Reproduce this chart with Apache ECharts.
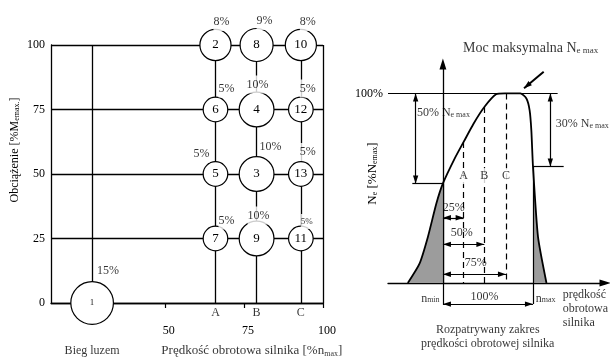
<!DOCTYPE html>
<html>
<head>
<meta charset="utf-8">
<title>Fazy testu i charakterystyka mocy</title>
<script src="https://cdn.jsdelivr.net/npm/echarts@6.0.0/dist/echarts.min.js"></script>
<style>
  html, body { margin: 0; padding: 0; background: #fff; }
  #chart { width: 610px; height: 358px; }
</style>
</head>
<body>
<div id="chart"></div>
<script>
// lewy wykres: fazy testu (predkosc, obciazenie, waga)
var modeNo = [1, 2, 8, 10, 6, 4, 12, 5, 3, 13, 7, 9, 11];
var modeSpeed = ['idle', 'A', 'B', 'C', 'A', 'B', 'C', 'A', 'B', 'C', 'A', 'B', 'C'];
var modeLoad = [0, 100, 100, 100, 75, 75, 75, 50, 50, 50, 25, 25, 25];
var modeWeight = [15, 8, 9, 8, 5, 10, 5, 5, 10, 5, 5, 10, 5];
var speedNames = ['idle', 'A', 'B', 'C'];
var speedValues = [27, 66, 79, 93];
var speedTicks = [50, 75, 100];
var loadTicks = [0, 25, 50, 75, 100];

// prawy wykres: charakterystyka mocy
var curveSpeed = [-39, -26, -16.7, -7.3, 0, 13, 23, 34, 46, 59, 69, 86, 92.7, 96.3, 98.2, 100, 105.6, 115];
var curvePower = [0, 10.2, 24.3, 41.9, 52.5, 65.6, 74.4, 84, 92.8, 99.5, 100, 100, 97.3, 91.1, 80.5, 61.5, 24.3, 0];
var rangeNames = ['A', 'B', 'C'];
var rangeSpeed = [23, 46, 70];
var rangePower = [74.4, 92.8, 100];
var rangeShare = ['25%', '50%', '75%', '100%'];
var nMin = 0, nMax = 100;
var powerAtMin = 52.5, powerAtMax = 61.5;

var FONT = 'Liberation Serif';
var INK = '#000';
var HEAD = 'path://M0,0M12,12M6,6L8,12L4,12Z';
var AXIS_HEAD = 'path://M5,0L10,16L0,16Z';
var rich = {
  n: { fontFamily: FONT, fontSize: 12, color: INK },
  m: { fontFamily: FONT, fontSize: 13, color: INK },
  b: { fontFamily: FONT, fontSize: 14, color: INK },
  s: { fontFamily: FONT, fontSize: 8, color: INK, verticalAlign: 'bottom' },
  t: { fontFamily: FONT, fontSize: 9, color: INK, verticalAlign: 'bottom' }
};

function speedOf(name) { return speedValues[speedNames.indexOf(name)]; }

var modes = modeNo.map(function (no, i) {
  var item = { value: [speedOf(modeSpeed[i]), modeLoad[i], modeWeight[i], no] };
  if (no === 1) item.label = { fontSize: 8 };
  return item;
});

// polozenie opisow wag wzgledem kolek (px)
var weightOffset = {
  1: [16, -32], 2: [6, -23], 8: [8, -24], 10: [7, -23],
  6: [11, -21], 4: [1, -25], 12: [7, -21],
  5: [-14, -20], 3: [14, -27], 13: [7, -22],
  7: [11, -18], 9: [2, -23], 11: [6, -17]
};
var weights = modes.map(function (m) {
  var no = m.value[3];
  return { value: m.value, label: { offset: weightOffset[no], fontSize: no === 11 ? 9 : 12 } };
});

var curve = curveSpeed.map(function (x, i) { return [x, curvePower[i]]; });
var lowFlank = curve.filter(function (p) { return p[0] <= nMin; });
var highFlank = curve.filter(function (p) { return p[0] >= nMax; });

function linesSeries(gi, list, style, symbols) {
  return {
    type: 'lines', coordinateSystem: 'cartesian2d', xAxisIndex: gi, yAxisIndex: gi,
    clip: false, silent: true, z: 2,
    symbol: symbols || ['none', 'none'], symbolSize: 16,
    lineStyle: Object.assign({ color: INK, width: 1.2, opacity: 1, curveness: 0 }, style || {}),
    data: list.map(function (c) { return { coords: c }; })
  };
}

function notesSeries(gi, list) {
  return {
    type: 'scatter', xAxisIndex: gi, yAxisIndex: gi, symbolSize: 1, clip: false, silent: true, z: 8,
    itemStyle: { color: 'rgba(0,0,0,0)' },
    label: { show: true, position: 'inside', color: INK, fontFamily: FONT, fontSize: 12, rich: rich },
    data: list.map(function (n) {
      return { value: [n[1], n[2]], label: Object.assign({ formatter: n[0] }, n[3] || {}) };
    })
  };
}

var leftGuides = speedValues.map(function (x) { return [[x, 0], [x, 100]]; });
leftGuides.push([[100, 0], [100, 100]]);

var leftNotes = speedNames.slice(1).map(function (nm) {
  return [nm, speedOf(nm), -3.9];
});
leftNotes.push(['Bieg luzem', speedOf('idle'), -18.6]);
leftNotes.push(['{m|Prędkość obrotowa silnika [%n}{s|max}{m|]}', 77.5, -18.6]);

var shareLevels = [34.4, 20.4, 4.6, -11.1];
var shareEnds = rangeSpeed.concat([nMax]);
var shareArrows = shareEnds.map(function (x, i) { return [[nMin, shareLevels[i]], [x, shareLevels[i]]]; });
shareArrows.push([[-30.3, 100], [-30.3, powerAtMin]]);
shareArrows.push([[119.3, 100], [119.3, powerAtMax]]);

var plainRight = [
  [[-61, 100], [127.4, 100]],
  [[-34, powerAtMin], [nMin, powerAtMin]],
  [[nMin, powerAtMin], [nMin, -11.1]],
  [[nMax, powerAtMax], [nMax, -11.1]],
  [[nMax, powerAtMax], [134.1, powerAtMax]]
];
var dashedRight = rangeSpeed.map(function (x, i) { return [[x, rangePower[i]], [x, 0]]; });

var shareLabelPos = [[12, 39.6], [20.8, 26.2], [36.5, 10.4], [46.1, -7.2]];
var rightNotes = [
  ['{n|50% N}{s|e max}', -28.9, 89.8, { align: 'left' }],
  ['{n|30% N}{s|e max}', 125.3, 83.7, { align: 'left' }],
  ['{n|n}{s|min}', -3.7, -8.1, { align: 'right' }],
  ['{n|n}{s|max}', 103.1, -8.1, { align: 'left' }],
  ['prędkość\nobrotowa\nsilnika', 133.1, -2.6, { align: 'left', verticalAlign: 'top', lineHeight: 14 }],
  ['Rozpatrywany zakres\nprędkości obrotowej silnika', 49.8, -21.1, { align: 'center', verticalAlign: 'top', lineHeight: 14 }],
  ['{b|Moc maksymalna N}{t|e max}', 97.5, 124]
];
rangeNames.forEach(function (nm, i) {
  rightNotes.push([nm, rangeSpeed[i], 56.4, { backgroundColor: '#fff', padding: [2, 1] }]);
});
rangeShare.forEach(function (s, i) {
  rightNotes.push([s, shareLabelPos[i][0], shareLabelPos[i][1]]);
});

var chart = echarts.init(document.getElementById('chart'));
chart.setOption({
  animation: false,
  backgroundColor: '#fff',
  grid: [
    { left: 51, top: 45, width: 272, height: 258 },
    { left: 388, top: 64, width: 217, height: 219 }
  ],
  xAxis: [
    {
      gridIndex: 0, type: 'value', min: 14, max: 100,
      axisLine: { show: true, onZero: false, lineStyle: { color: INK, width: 1.3 } },
      axisTick: { show: true, customValues: speedTicks, length: 5, lineStyle: { color: INK, width: 1.2 } },
      axisLabel: { customValues: speedTicks, margin: 22, color: INK, fontFamily: FONT, fontSize: 12, padding: [0, 0, 0, 8] },
      splitLine: { show: false }
    },
    {
      gridIndex: 1, type: 'value', min: -61, max: 180,
      axisLine: { show: true, symbol: ['none', AXIS_HEAD], symbolSize: [7, 11], lineStyle: { color: INK, width: 1.3 } },
      axisTick: { show: false },
      axisLabel: { show: false },
      splitLine: { show: false }
    }
  ],
  yAxis: [
    {
      gridIndex: 0, type: 'value', min: 0, max: 100, interval: 25,
      name: '{n|Obciążenie [%M}{s|emax.}{n|]}',
      nameLocation: 'middle', nameRotate: 90, nameGap: 30, nameMoveOverlap: false,
      nameTextStyle: { rich: rich, padding: [0, 0, 0, 48] },
      axisLine: { show: true, lineStyle: { color: INK, width: 1.3 } },
      axisTick: { show: false },
      axisLabel: { margin: 6, color: INK, fontFamily: FONT, fontSize: 12 },
      splitLine: { show: true, lineStyle: { color: INK, width: 1.3 } }
    },
    {
      gridIndex: 1, type: 'value', min: 0, max: 115.5,
      name: '{m|N}{s|e}{m| [%N}{s|emax}{m|]}',
      nameLocation: 'middle', nameRotate: 90, nameGap: 9, nameMoveOverlap: false,
      nameTextStyle: { rich: rich },
      axisLine: { show: true, symbol: ['none', AXIS_HEAD], symbolSize: [7, 11], lineStyle: { color: INK, width: 1.3 } },
      axisTick: { show: false },
      axisLabel: { customValues: [100], formatter: '{value}%', margin: 5, color: INK, fontFamily: FONT, fontSize: 12, padding: [10, 0, 0, 0] },
      splitLine: { show: false }
    }
  ],
  series: [
    linesSeries(0, leftGuides, { width: 1.3 }),
    {
      type: 'scatter', xAxisIndex: 0, yAxisIndex: 0, z: 5, clip: false, silent: true,
      symbolSize: function (v) { return 11 * Math.sqrt(v[2]); },
      itemStyle: { color: '#fff', borderColor: INK, borderWidth: 1.2, opacity: 1 },
      label: {
        show: true, position: 'inside', color: INK, fontFamily: FONT, fontSize: 13,
        formatter: function (p) { return p.value[3]; }
      },
      data: modes
    },
    {
      type: 'scatter', xAxisIndex: 0, yAxisIndex: 0, z: 6, clip: false, silent: true,
      symbolSize: 1, itemStyle: { color: 'rgba(0,0,0,0)' },
      label: {
        show: true, position: 'inside', color: INK, fontFamily: FONT, fontSize: 12,
        backgroundColor: '#fff', padding: [3, 0],
        formatter: function (p) { return p.value[2] + '%'; }
      },
      data: weights
    },
    notesSeries(0, leftNotes),

    {
      type: 'line', xAxisIndex: 1, yAxisIndex: 1, data: lowFlank, smooth: 0.2, symbol: 'none',
      clip: false, silent: true, z: 1, lineStyle: { width: 0 }, areaStyle: { color: '#9c9c9c', opacity: 1 }
    },
    {
      type: 'line', xAxisIndex: 1, yAxisIndex: 1, data: highFlank, smooth: 0.2, symbol: 'none',
      clip: false, silent: true, z: 1, lineStyle: { width: 0 }, areaStyle: { color: '#9c9c9c', opacity: 1 }
    },
    {
      type: 'line', xAxisIndex: 1, yAxisIndex: 1, data: curve, smooth: 0.2, symbol: 'none',
      clip: false, silent: true, z: 3, lineStyle: { color: INK, width: 1.8 }
    },
    linesSeries(1, plainRight),
    linesSeries(1, dashedRight, { type: [6, 4] }),
    linesSeries(1, shareArrows, {}, [HEAD, HEAD]),
    linesSeries(1, [[[111.9, 111.4], [90.1, 102.7]]], { width: 2 }, ['none', HEAD]),
    notesSeries(1, rightNotes)
  ]
});
</script>
</body>
</html>
